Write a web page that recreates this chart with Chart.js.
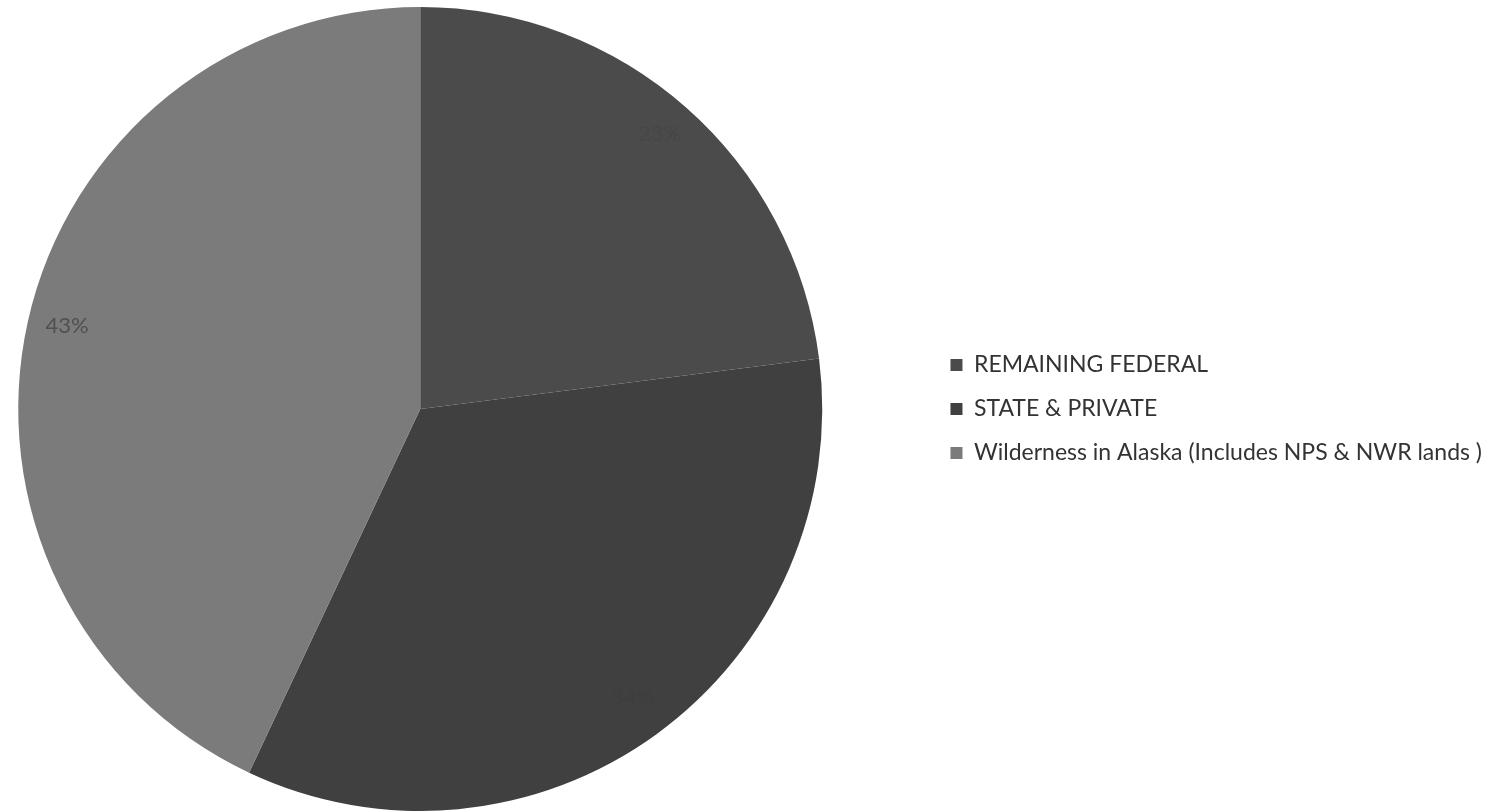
<!DOCTYPE html>
<html lang="en">
<head>
    <meta charset="UTF-8">
    <title>Alaska land ownership</title>
    <script src="https://cdn.jsdelivr.net/npm/chart.js"></script>
    <style>
        html, body { margin: 0; padding: 0; background: #fff; overflow: hidden; }
        /* canvas is wider than the window and shifted left so the pie sits where it does in the original */
        #wrap { width: 1581px; height: 811px; margin-left: -89px; }
    </style>
</head>
<body>
    <div id="wrap"><canvas id="landChart"></canvas></div>
    <script>
        const categories = ['REMAINING FEDERAL', 'STATE & PRIVATE', 'Wilderness in Alaska (Includes NPS & NWR lands )'];
        const shares = [23, 34, 43];
        const sliceColors = ['#4b4b4b', '#404040', '#7b7b7b'];
        const labelColors = ['#474747', '#3e3e3e', '#505050'];

        // percentage text drawn inside each slice, near the rim
        const sliceLabels = {
            id: 'sliceLabels',
            afterDatasetsDraw(chart) {
                const ctx = chart.ctx;
                const meta = chart.getDatasetMeta(0);
                const total = shares.reduce((a, b) => a + b, 0);
                ctx.save();
                ctx.font = '22px Lato, "Open Sans", sans-serif';
                ctx.textAlign = 'center';
                ctx.textBaseline = 'middle';
                meta.data.forEach((arc, i) => {
                    const mid = (arc.startAngle + arc.endAngle) / 2;
                    const r = arc.outerRadius * 0.9;
                    ctx.fillStyle = labelColors[i];
                    ctx.fillText(Math.round(shares[i] / total * 100) + '%',
                        arc.x + Math.cos(mid) * r, arc.y + Math.sin(mid) * r - 4);
                });
                ctx.restore();
            }
        };

        new Chart(document.getElementById('landChart'), {
            type: 'pie',
            data: {
                labels: categories,
                datasets: [{
                    data: shares,
                    backgroundColor: sliceColors,
                    borderWidth: 0
                }]
            },
            options: {
                responsive: true,
                maintainAspectRatio: false,
                animation: false,
                layout: { padding: { left: 0, top: 7, bottom: 0, right: 0 } },
                plugins: {
                    tooltip: { enabled: false },
                    legend: {
                        position: 'right',
                        labels: {
                            boxWidth: 12,
                            boxHeight: 12,
                            padding: 21,
                            color: '#333333',
                            font: { family: 'Lato, "Open Sans", sans-serif', size: 23 }
                        }
                    }
                }
            },
            plugins: [sliceLabels]
        });
    </script>
</body>
</html>
